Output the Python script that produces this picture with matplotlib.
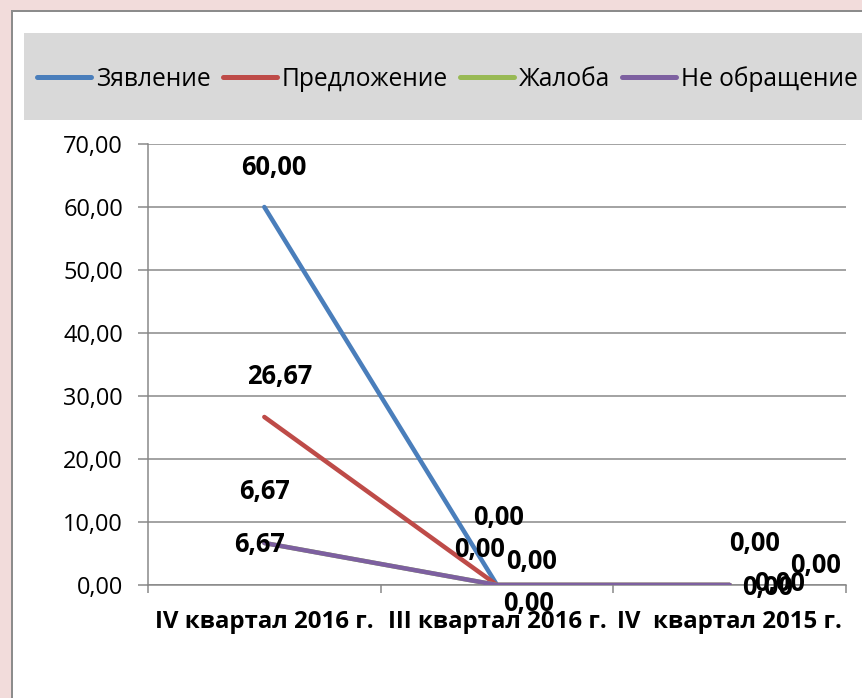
import matplotlib
matplotlib.use("Agg")
import matplotlib.pyplot as plt
from matplotlib.patches import Rectangle
from matplotlib.lines import Line2D

plt.rcParams['font.family'] = ['Open Sans', 'DejaVu Sans']

# data
categories = ['IV квартал 2016 г.', 'III квартал 2016 г.', 'IV  квартал 2015 г.']
series_names = ['Зявление', 'Предложение', 'Жалоба', 'Не обращение']
zayavlenie = [60.00, 0.00, 0.00]
predlozhenie = [26.67, 0.00, 0.00]
zhaloba = [6.67, 0.00, 0.00]
ne_obrashchenie = [6.67, 0.00, 0.00]
y_ticks = [0, 10, 20, 30, 40, 50, 60, 70]

colors = ['#4A7EBB', '#BE4B48', '#98B954', '#7D60A0']
# label offsets (px) per series, per category, Excel placed them by hand
label_offsets = [
    [(9, 40), (2, 67), (25, 42)],
    [(15, 40), (-17, 36), (86, 19)],
    [(0, 51), (35, 24), (38, -2)],
    [(-5, -2), (32, -18), (50, 1)],
]

W, H = 862, 698
fig = plt.figure(figsize=(W / 72, H / 72), dpi=72, facecolor='#F2DCDB')

# white chart panel and grey legend strip
fig.patches.append(Rectangle((12 / W, -0.05), 1.0, (H - 11) / H + 0.05,
                             transform=fig.transFigure, facecolor='white',
                             edgecolor='#8C8C8C', lw=2, zorder=-2))
fig.patches.append(Rectangle((24 / W, 1 - 120 / H), 1.0, 87 / H,
                             transform=fig.transFigure, facecolor='#D9D9D9',
                             edgecolor='none', zorder=-1))

ax = fig.add_axes([148 / W, 1 - 585 / H, (846 - 148) / W, (585 - 144) / H])
ax.patch.set_alpha(0)
ax.set_zorder(1)

x = range(len(categories))
all_series = [zayavlenie, predlozhenie, zhaloba, ne_obrashchenie]
for name, vals, c in zip(series_names, all_series, colors):
    ax.plot(x, vals, color=c, lw=4.5, solid_capstyle='round', zorder=3)

for vals, offs in zip(all_series, label_offsets):
    for i, v in enumerate(vals):
        ax.annotate(f"{v:.2f}".replace('.', ','), (i, v), xytext=offs[i],
                    textcoords='offset points', ha='center', va='center',
                    fontsize=25.5, fontweight='bold', zorder=5)

ax.set_xlim(-0.5, 2.5)
ax.set_ylim(0, 70)
ax.set_yticks(y_ticks)
ax.set_yticklabels([f"{t:.2f}".replace('.', ',') for t in y_ticks], fontsize=23.5)
ax.set_xticks(list(x))
ax.set_xticklabels(categories, fontsize=24, fontweight='bold')
ax.set_xticks([-0.5, 0.5, 1.5, 2.5], minor=True)
ax.tick_params(axis='x', which='major', length=0, pad=25)
ax.tick_params(axis='x', which='minor', length=8, width=1.5, color='#868686')
ax.tick_params(axis='y', length=10, width=1.5, color='#868686', pad=15)

for s in ['top', 'right']:
    ax.spines[s].set_visible(False)
for s in ['left', 'bottom']:
    ax.spines[s].set_color('#868686')
    ax.spines[s].set_linewidth(1.5)
ax.yaxis.grid(True, color='#868686', lw=1.5)
ax.set_axisbelow(True)

handles = [Line2D([], [], color=c, lw=5, solid_capstyle='round') for c in colors]
ax.legend(handles, series_names, loc='center left',
          bbox_to_anchor=(37 / W, 1 - 79 / H), bbox_transform=fig.transFigure,
          ncol=4, frameon=False, fontsize=24.5, handlelength=2.2,
          handletextpad=0.2, columnspacing=0.5, borderpad=0, borderaxespad=0)

fig.savefig('out.png', dpi=72, facecolor=fig.get_facecolor())
